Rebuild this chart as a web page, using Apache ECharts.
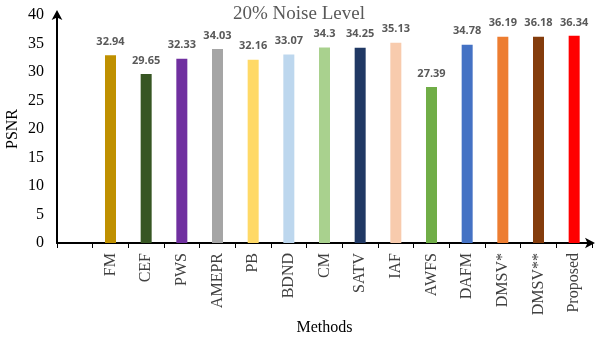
<!DOCTYPE html>
<html>
<head>
<meta charset="utf-8">
<script src="https://cdn.jsdelivr.net/npm/echarts@6/dist/echarts.min.js"></script>
<style>
  html, body { margin: 0; padding: 0; background: #fff; }
  #chart { width: 598px; height: 339px; }
</style>
</head>
<body>
<div id="chart"></div>
<script>
  // first slot is empty in the original figure
  var methods = ['', 'FM', 'CEF', 'PWS', 'AMEPR', 'PB', 'BDND', 'CM', 'SATV', 'IAF', 'AWFS', 'DAFM', 'DMSV*', 'DMSV**', 'Proposed'];
  var psnr = ['-', 32.94, 29.65, 32.33, 34.03, 32.16, 33.07, 34.3, 34.25, 35.13, 27.39, 34.78, 36.19, 36.18, 36.34];
  var barColors = ['#fff', '#BF9000', '#375623', '#7030A0', '#A5A5A5', '#FFD966', '#BDD7EE', '#A9D18E', '#203864', '#F8CBAD', '#70AD47', '#4472C4', '#ED7D31', '#843C0C', '#FF0000'];
  var yTicks = [0, 5, 10, 15, 20, 25, 30, 35, 40];

  var chart = echarts.init(document.getElementById('chart'));
  var serif = '"Liberation Serif", "DejaVu Serif", serif';

  var option = {
    animation: false,
    title: {
      text: '20% Noise Level',
      left: 'center',
      top: 0,
      textStyle: { fontFamily: serif, fontWeight: 'normal', fontSize: 19, color: '#595959' }
    },
    grid: { left: 57, right: 6, top: 15, bottom: 96, containLabel: false, outerBoundsMode: 'none' },
    xAxis: {
      type: 'category',
      data: methods,
      name: 'Methods',
      nameLocation: 'middle',
      nameGap: 77,
      nameMoveOverlap: false,
      nameTextStyle: { fontFamily: serif, fontSize: 16, color: '#000' },
      axisLine: { lineStyle: { color: '#000', width: 2 }, symbol: ['none', 'arrow'], symbolSize: [8, 10], symbolOffset: [0, 3] },
      axisTick: { show: true, length: 5, lineStyle: { color: '#000' } },
      axisLabel: { rotate: 90, interval: 0, fontFamily: serif, fontSize: 16, color: '#404040', margin: 10 }
    },
    yAxis: {
      type: 'value',
      min: yTicks[0],
      max: yTicks[yTicks.length - 1],
      interval: 5,
      name: 'PSNR',
      nameLocation: 'middle',
      nameGap: 36,
      nameMoveOverlap: false,
      nameRotate: 90,
      nameTextStyle: { fontFamily: serif, fontSize: 16, color: '#000' },
      axisLine: { show: true, lineStyle: { color: '#000', width: 2 }, symbol: ['none', 'arrow'], symbolSize: [8, 10], symbolOffset: [0, 5] },
      axisTick: { show: false },
      splitLine: { show: false },
      axisLabel: { fontFamily: serif, fontSize: 16, color: '#000', margin: 13 }
    },
    series: [{
      type: 'bar',
      data: psnr.map(function (v, i) {
        return { value: v, itemStyle: { color: barColors[i] } };
      }),
      barWidth: 11,
      label: {
        show: true,
        position: 'top',
        distance: 8,
        fontFamily: '"Open Sans", "Noto Sans", sans-serif',
        fontWeight: 'bold',
        fontSize: 11,
        color: '#595959'
      }
    }]
  };
  chart.setOption(option);
</script>
</body>
</html>
